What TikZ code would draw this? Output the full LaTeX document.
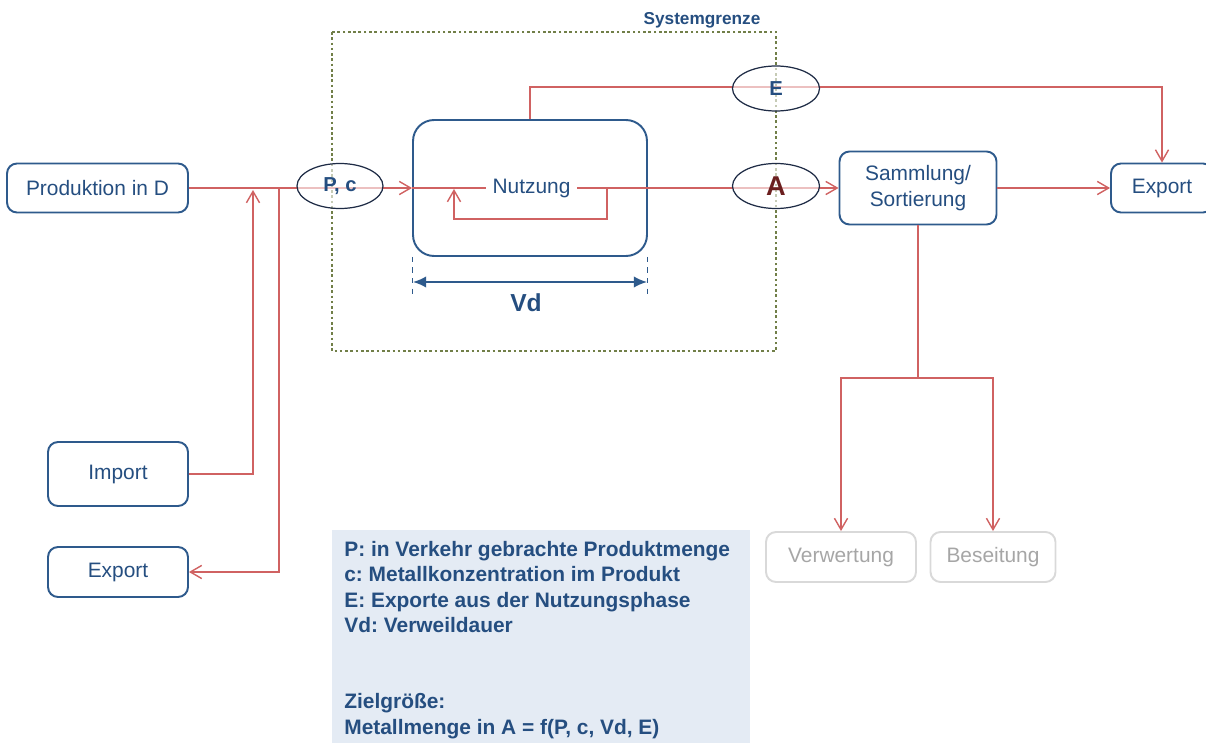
\documentclass[tikz,border=0pt]{standalone}
\usepackage{fontspec}
\setmainfont{Liberation Sans}
\usetikzlibrary{arrows.meta,shapes.geometric}
\definecolor{rahmenblau}{HTML}{2E5A8C}
\definecolor{textblau}{HTML}{254E80}
\definecolor{flussrot}{HTML}{D06262}
\definecolor{dunkelrot}{HTML}{6B1F1F}
\definecolor{oliv}{HTML}{717F48}
\definecolor{legende}{HTML}{E4EBF4}
\definecolor{graurand}{HTML}{D9D9D9}
\definecolor{grautext}{HTML}{A6A6A6}
\definecolor{ovalrand}{HTML}{1E2B45}
\frenchspacing

\begin{document}
\begin{tikzpicture}
    [x=0.02cm,y=-0.02cm,
    every node/.style={font=\fontsize{11.9}{14.45}\selectfont},%
    kasten/.style={draw=rahmenblau,line width=1.1pt,rounded corners=0.2cm,
      text=textblau,inner sep=0pt,align=center},
    grau/.style={draw=graurand,line width=1.1pt,rounded corners=0.2cm,
      text=grautext,inner sep=0pt},
    oval/.style={ellipse,draw=ovalrand,line width=0.7pt,fill=white,
      fill opacity=0.6,text opacity=1,inner sep=0pt,minimum width=1.72cm,
      minimum height=0.9cm,text=textblau,
      font=\fontsize{11.5}{13}\selectfont\bfseries},
    fluss/.style={flussrot,line width=0.8pt},
    >={Straight Barb[length=6.5pt,width=7.5pt]}]
    \useasboundingbox (0,0) rectangle (1206,743);

    % Systemgrenze
    \draw[oliv,line width=0.8pt,dash pattern=on 1.5pt off 1.5pt]
    (332,32) rectangle (776,351);
    \node[text=textblau,font=\fontsize{9.8}{12}\selectfont\bfseries]
    (SysG) at (702,20) {Systemgrenze};

    \node[kasten,minimum width=3.62cm,minimum height=0.98cm] (Prod) at (97.5,188) {Produktion in D};
    \node[kasten,minimum width=2.8cm,minimum height=1.28cm] (Imp) at (118,474) {Import};
    \node[kasten,minimum width=2.8cm,minimum height=1cm] (ExpL) at (118,572) {Export};
    \node[kasten,minimum width=4.68cm,minimum height=2.72cm,rounded corners=0.42cm] (Nutz) at (530,188) {};
    \node[text=textblau,inner sep=0pt,minimum width=1.82cm] (NutzT) at (531.5,188) {Nutzung};
    \node[kasten,minimum width=3.14cm,minimum height=1.46cm] (Samm) at (918,188) {Sammlung/\\Sortierung};
    \node[kasten,minimum width=2.04cm,minimum height=0.98cm] (ExpR) at (1162,188) {Export};
    \node[grau,minimum width=3cm,minimum height=1cm] (Verw) at (841,557) {Verwertung};
    \node[grau,minimum width=2.5cm,minimum height=1cm] (Bes) at (993,557) {Beseitung};

    \coordinate (ImpEin) at (253,190);
    \coordinate (ExpAb) at (279,188);
    \coordinate (SchleifeR) at (607,188);
    \coordinate (SchleifeL) at (454,189);
    \coordinate (Teilung) at (918,378);

    \draw[->,fluss] (Prod) -- (Nutz);
    \draw[->,fluss] (Imp) -| (ImpEin);
    \draw[->,fluss] (ExpAb) |- (ExpL);

    \draw[fluss] (Nutz.west) -- (NutzT);
    \draw[->,fluss] (NutzT) -- (Samm);
    \draw[->,fluss] (SchleifeR) -- ++(0,31) -| (SchleifeL);
    \draw[->,fluss] (Nutz.north) -- ++(0,-32) -| (ExpR);

    \draw[->,fluss] (Samm) -- (ExpR);
    \draw[fluss] (Samm) -- (Teilung);
    \draw[->,fluss] (Teilung) -| (Verw);
    \draw[->,fluss] (Teilung) -| (Bes);

    \node[oval] (PC) at (340,186) {P, c};
    \node[oval,minimum width=1.74cm] (E) at (776,88.5) {E};
    \node[oval,minimum width=1.74cm,text=dunkelrot,
    font=\fontsize{15.5}{17}\selectfont\bfseries] (A) at (776,186) {A};

    % Verweildauer
    \coordinate (VdL) at (413,282);
    \coordinate (VdR) at (647,282);
    \draw[rahmenblau,dashed,line width=0.6pt] (Nutz.south west) -- ++(0,40);
    \draw[rahmenblau,dashed,line width=0.6pt] (Nutz.south east) -- ++(0,40);
    \draw[{Latex[length=7.5pt,width=6.5pt]}-{Latex[length=7.5pt,width=6.5pt]},
    rahmenblau,line width=1pt] (VdL) -- (VdR);
    \node[text=textblau,font=\fontsize{14}{16}\selectfont\bfseries] (Vd) at (526,303) {Vd};

    % Legende
    \fill[legende] (332,530) rectangle (750,743);
    \node[anchor=north west,inner sep=0pt,align=left,text=textblau,
    font=\fontsize{11.9}{14.45}\selectfont\bfseries] (Leg) at (344,541)
    {P: in Verkehr gebrachte Produktmenge\\
      c: Metallkonzentration im Produkt\\
      E: Exporte aus der Nutzungsphase\\
      Vd: Verweildauer\\[28.9pt]
      Zielgröße:\\
      Metallmenge in A = f(P, c, Vd, E)};
\end{tikzpicture}
\end{document}
